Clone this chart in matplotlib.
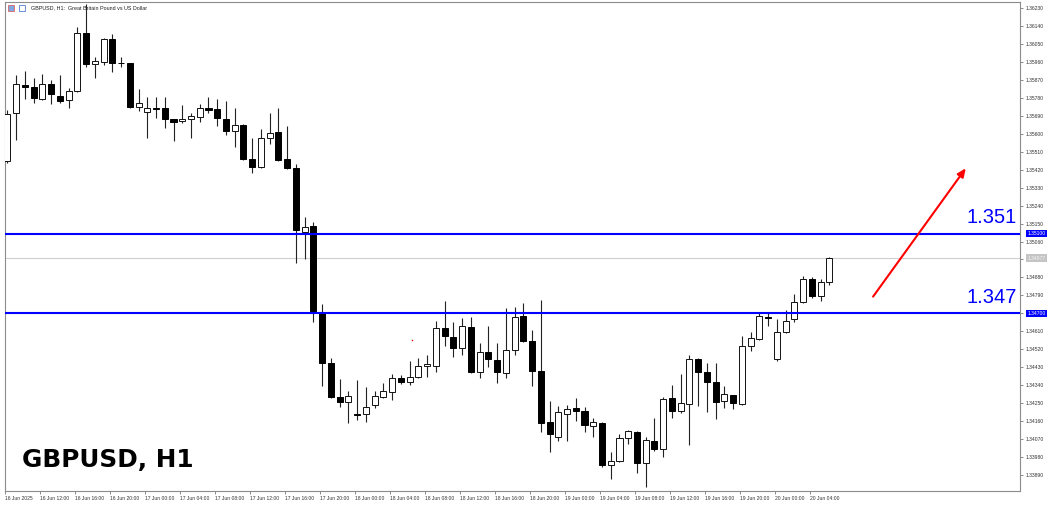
import numpy as np
import matplotlib.pyplot as plt
from matplotlib.patches import Rectangle

# ---- data: GBPUSD H1 candles, 16 Jun 2025 08:00 onward ----
opens = [1.35463, 1.35704, 1.35844, 1.35834, 1.35774, 1.35849, 1.35789, 1.35769, 1.35814, 1.36105,
         1.35949, 1.35959, 1.36075, 1.35956, 1.35954, 1.35734, 1.35709, 1.35729, 1.35729, 1.35674,
         1.35664, 1.35674, 1.35684, 1.35729, 1.35724, 1.35674, 1.35614, 1.35644, 1.35473, 1.35433,
         1.35579, 1.35609, 1.35473, 1.35428, 1.35108, 1.35138, 1.34707, 1.34451, 1.34281, 1.34256,
         1.34196, 1.34196, 1.34241, 1.34281, 1.34306, 1.34376, 1.34356, 1.34381, 1.34436, 1.34436,
         1.34627, 1.34582, 1.34527, 1.34632, 1.34406, 1.34506, 1.34466, 1.34401, 1.34517, 1.34687,
         1.34562, 1.34411, 1.34156, 1.34081, 1.34196, 1.34226, 1.34211, 1.34136, 1.34151, 1.33940,
         1.33960, 1.34076, 1.34106, 1.33950, 1.34061, 1.34020, 1.34276, 1.34211, 1.34246, 1.34471,
         1.34406, 1.34356, 1.34261, 1.34291, 1.34246, 1.34537, 1.34572, 1.34680, 1.34471, 1.34607,
         1.34672, 1.34757, 1.34872, 1.34787, 1.34857]
highs = [1.35719, 1.35894, 1.35914, 1.35879, 1.35899, 1.35869, 1.35894, 1.35829, 1.36135, 1.36252,
         1.35984, 1.36080, 1.36100, 1.35984, 1.35956, 1.35824, 1.35784, 1.35784, 1.35784, 1.35676,
         1.35744, 1.35704, 1.35749, 1.35784, 1.35774, 1.35764, 1.35729, 1.35649, 1.35579, 1.35624,
         1.35704, 1.35729, 1.35639, 1.35448, 1.35183, 1.35158, 1.34747, 1.34476, 1.34371, 1.34311,
         1.34366, 1.34331, 1.34311, 1.34351, 1.34396, 1.34391, 1.34461, 1.34476, 1.34491, 1.34662,
         1.34762, 1.34657, 1.34677, 1.34682, 1.34552, 1.34637, 1.34552, 1.34727, 1.34732, 1.34752,
         1.34617, 1.34767, 1.34261, 1.34236, 1.34241, 1.34276, 1.34231, 1.34176, 1.34156, 1.34005,
         1.34096, 1.34116, 1.34111, 1.34081, 1.34176, 1.34281, 1.34341, 1.34396, 1.34491, 1.34476,
         1.34451, 1.34451, 1.34336, 1.34293, 1.34587, 1.34607, 1.34702, 1.34702, 1.34672, 1.34717,
         1.34797, 1.34887, 1.34882, 1.34872, 1.34982]
lows = [1.35453, 1.35569, 1.35774, 1.35754, 1.35769, 1.35749, 1.35754, 1.35729, 1.35809, 1.35934,
        1.35879, 1.35944, 1.35909, 1.35934, 1.35729, 1.35714, 1.35579, 1.35679, 1.35629, 1.35564,
        1.35654, 1.35579, 1.35659, 1.35704, 1.35639, 1.35594, 1.35534, 1.35468, 1.35403, 1.35428,
        1.35549, 1.35463, 1.35423, 1.34952, 1.34972, 1.34657, 1.34336, 1.34276, 1.34231, 1.34151,
        1.34166, 1.34156, 1.34226, 1.34276, 1.34266, 1.34346, 1.34341, 1.34376, 1.34381, 1.34406,
        1.34537, 1.34481, 1.34491, 1.34401, 1.34376, 1.34431, 1.34351, 1.34376, 1.34491, 1.34557,
        1.34336, 1.34106, 1.34005, 1.34061, 1.34061, 1.34161, 1.34106, 1.34081, 1.33930, 1.33870,
        1.33955, 1.34046, 1.33900, 1.33830, 1.34010, 1.33980, 1.34176, 1.34201, 1.34041, 1.34236,
        1.34206, 1.34171, 1.34226, 1.34221, 1.34241, 1.34512, 1.34567, 1.34637, 1.34461, 1.34602,
        1.34657, 1.34752, 1.34777, 1.34762, 1.34842]
closes = [1.35699, 1.35849, 1.35834, 1.35779, 1.35849, 1.35799, 1.35764, 1.35814, 1.36105, 1.35949,
          1.35964, 1.36075, 1.35954, 1.35954, 1.35734, 1.35754, 1.35729, 1.35724, 1.35674, 1.35659,
          1.35674, 1.35689, 1.35729, 1.35719, 1.35679, 1.35614, 1.35644, 1.35473, 1.35433, 1.35579,
          1.35604, 1.35468, 1.35428, 1.35118, 1.35133, 1.34712, 1.34451, 1.34281, 1.34256, 1.34286,
          1.34191, 1.34231, 1.34286, 1.34311, 1.34376, 1.34356, 1.34381, 1.34436, 1.34446, 1.34627,
          1.34587, 1.34527, 1.34637, 1.34406, 1.34506, 1.34471, 1.34406, 1.34517, 1.34682, 1.34562,
          1.34411, 1.34151, 1.34096, 1.34206, 1.34221, 1.34211, 1.34141, 1.34156, 1.33940, 1.33960,
          1.34076, 1.34111, 1.33950, 1.34066, 1.34020, 1.34271, 1.34211, 1.34251, 1.34471, 1.34406,
          1.34356, 1.34256, 1.34296, 1.34251, 1.34537, 1.34577, 1.34687, 1.34678, 1.34607, 1.34662,
          1.34757, 1.34872, 1.34787, 1.34857, 1.34977]

time_labels = ['16 Jun 2025', '16 Jun 12:00', '16 Jun 16:00', '16 Jun 20:00',
               '17 Jun 00:00', '17 Jun 04:00', '17 Jun 08:00', '17 Jun 12:00', '17 Jun 16:00', '17 Jun 20:00',
               '18 Jun 00:00', '18 Jun 04:00', '18 Jun 08:00', '18 Jun 12:00', '18 Jun 16:00', '18 Jun 20:00',
               '19 Jun 00:00', '19 Jun 04:00', '19 Jun 08:00', '19 Jun 12:00', '19 Jun 16:00', '19 Jun 20:00',
               '20 Jun 00:00', '20 Jun 04:00']
label_bars = [0, 4, 8, 12, 16, 20, 24, 28, 32, 36, 40, 44, 48, 52, 56, 60, 64, 68, 72, 76, 80, 84, 88, 92]

price_ticks = [1.36230, 1.36140, 1.36050, 1.35960, 1.35870, 1.35780, 1.35690, 1.35600, 1.35510,
               1.35420, 1.35330, 1.35240, 1.35150, 1.35060, 1.34970, 1.34880, 1.34790, 1.34700,
               1.34610, 1.34520, 1.34430, 1.34340, 1.34250, 1.34160, 1.34070, 1.33980, 1.33890]
# tick labels hidden under the price boxes on the right scale
covered_ticks = [1.34970, 1.34700]

levels = [1.35100, 1.34700]
level_texts = ['1.351', '1.347']
bid_price = 1.34977
dot_bar, dot_price = 46.3, 1.34567

W, H = 1051, 508
fig = plt.figure(figsize=(W / 100, H / 100), dpi=100)
ax = fig.add_axes([5 / W, 17 / H, 1015 / W, 489 / H])

o, h, l, c = map(np.array, (opens, highs, lows, closes))
x = np.arange(len(o))
up = c >= o
lo = np.minimum(o, c)
ht = np.maximum(np.abs(c - o), 0.000004)

# wicks then bodies
ax.vlines(x, l, h, color='#222222', lw=0.8, zorder=2)
ax.bar(x[up], ht[up], bottom=lo[up], width=0.69, color='white',
       edgecolor='#111111', linewidth=0.7, zorder=3)
ax.bar(x[~up], ht[~up], bottom=lo[~up], width=0.69, color='black',
       edgecolor='black', linewidth=0.7, zorder=3)

# bid line + levels
ax.axhline(bid_price, color='#cfcfcf', lw=0.8, zorder=1)
for lv, txt in zip(levels, level_texts):
    ax.axhline(lv, color='#0000ff', lw=1.5, zorder=4)
    ax.annotate(txt, xy=(0.9965, lv), xycoords=('axes fraction', 'data'),
                xytext=(0, 7.5), textcoords='offset points', ha='right', va='baseline',
                fontsize=14.5, color='#0000ff', family='Liberation Sans', zorder=5)
    ax.annotate(f'{lv:.5f}', xy=(1, lv), xycoords=('axes fraction', 'data'),
                xytext=(5.5, 0), textcoords='offset points', ha='left', va='center',
                fontsize=3.6, color='white', family='Liberation Sans', annotation_clip=False,
                bbox=dict(boxstyle='square,pad=0.25', fc='#0000ff', ec='none'))
ax.annotate(f'{bid_price:.5f}', xy=(1, bid_price), xycoords=('axes fraction', 'data'),
            xytext=(5.5, 0), textcoords='offset points', ha='left', va='center',
            fontsize=3.6, color='#f4f4f4', family='Liberation Sans', annotation_clip=False,
            bbox=dict(boxstyle='square,pad=0.25', fc='#c4c4c4', ec='none'))

# red arrow
ax.annotate('', xy=(109.6, 1.35427), xytext=(99.0, 1.34784),
            arrowprops=dict(arrowstyle='-|>,head_length=0.5,head_width=0.22',
                            color='#ff0000', lw=1.5, shrinkA=0, shrinkB=0), zorder=6)
ax.plot([dot_bar], [dot_price], 's', color='#ff0000', ms=1.0, mew=0)

ax.text(0.017, 0.05, 'GBPUSD, H1', transform=ax.transAxes, fontsize=17.8,
        fontweight='bold', family='DejaVu Sans', color='black', va='baseline')

# axes cosmetics
ax.set_xlim(-0.19, 115.8)
ax.set_ylim(1.33810, 1.36260)
for s in ax.spines.values():
    s.set_color('#8c8c8c')
    s.set_linewidth(0.8)
ax.yaxis.tick_right()
ax.set_yticks(price_ticks)
ax.set_yticklabels(['' if p in covered_ticks else f'{p:.5f}' for p in price_ticks])
ax.set_xticks(np.array(label_bars) - 0.27)
ax.set_xticklabels(time_labels, ha='left')
ax.tick_params(axis='both', labelsize=3.6, length=2.2, width=0.6, color='#777777',
               labelcolor='#333333', pad=1.5)
for t in ax.get_xticklabels() + ax.get_yticklabels():
    t.set_family('Liberation Sans')

# header
fig.text(31 / W, 1 - 8 / H, 'GBPUSD, H1:  Great Britain Pound vs US Dollar', fontsize=3.9,
         family='Liberation Sans', color='#222222', va='center')
fig.patches.append(Rectangle((8 / W, 1 - 11 / H), 6 / W, 6 / H, transform=fig.transFigure,
                             fc='#7fa7e0', ec='#e05050', lw=0.5))
fig.patches.append(Rectangle((19 / W, 1 - 11 / H), 6 / W, 6 / H, transform=fig.transFigure,
                             fc='white', ec='#5080d0', lw=0.6))

fig.savefig('out.png', dpi=100)
